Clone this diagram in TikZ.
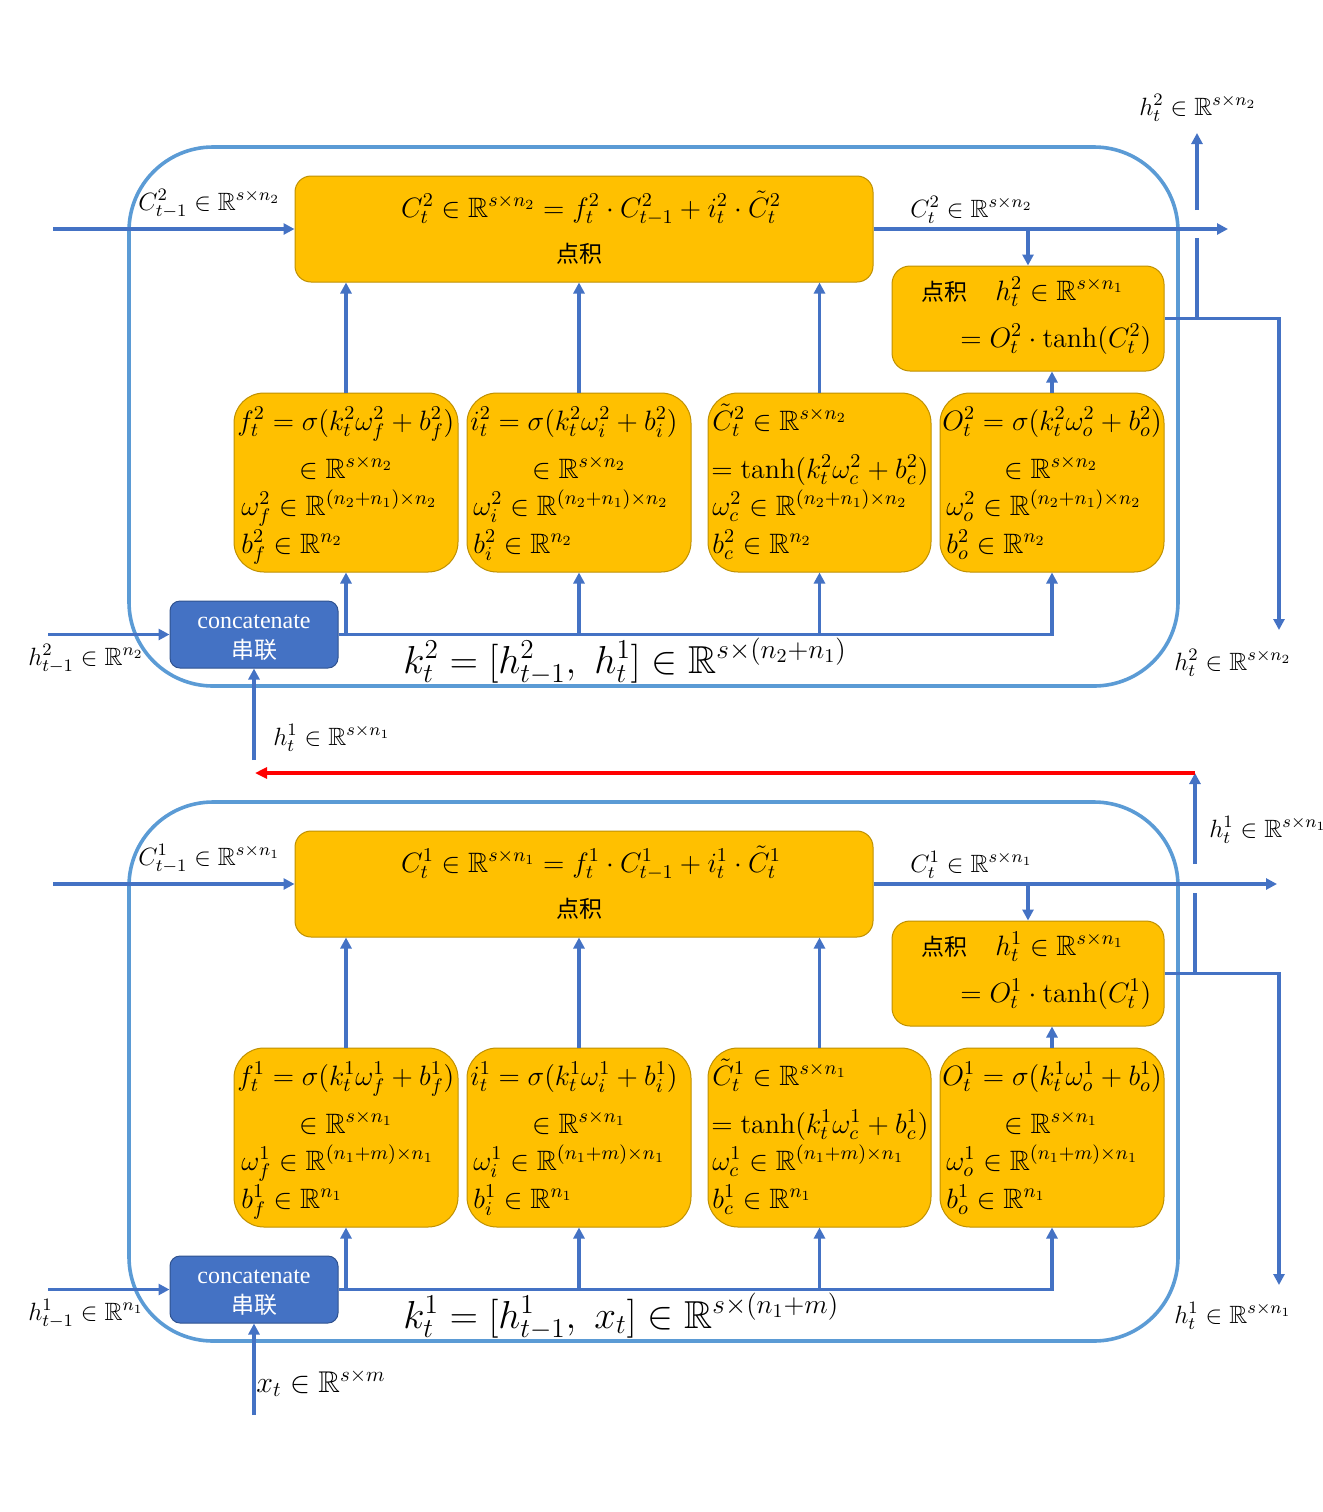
\documentclass[tikz,border=0pt]{standalone}
\usepackage{fix-cm}
\usepackage{amsmath,amssymb}
\usepackage{fontspec}
\newfontfamily\cjk{Noto Sans CJK SC}
\newfontfamily\tnr{Liberation Serif}
\usetikzlibrary{arrows.meta,fit,calc}
\definecolor{yfill}{HTML}{FFC000}
\definecolor{yline}{HTML}{BF9000}
\definecolor{ablue}{HTML}{4472C4}
\definecolor{oblue}{HTML}{5B9BD5}
\definecolor{cline}{HTML}{2F528F}
\tikzset{
  ybox/.style={draw=yline, line width=0.5pt, fill=yfill, inner sep=0pt},
  gatebox/.style={ybox, rounded corners=15pt},
  cbigbox/.style={ybox, rounded corners=8pt},
  catbox/.style={draw=cline, line width=0.5pt, fill=ablue, rounded corners=5pt, inner sep=0pt},
  frame/.style={draw=oblue, line width=1.8pt, rounded corners=42pt},
  conn/.style={draw=ablue, line width=1.7pt},
  arr/.style={conn, -{Triangle[width=5.5pt,length=5.5pt]}},
  redarr/.style={draw=red, line width=1.7pt, -{Triangle[width=5.5pt,length=6pt]}},
  lbl/.style={anchor=base west, inner sep=0pt, font=\fontsize{12.5}{15}\selectfont},
  glbl/.style={anchor=base west, inner sep=0pt, font=\fontsize{14}{16}\selectfont},
  gctr/.style={anchor=base, inner sep=0pt, font=\fontsize{14}{16}\selectfont},
  klbl/.style={anchor=base west, inner sep=0pt, font=\fontsize{19.5}{22}\selectfont},
  zh/.style={inner sep=0pt, font=\cjk\fontsize{11.5}{13}\selectfont},
}
% #1 suffix, #2 dy, #3 layer, #4 n, #5 W, #6 hdim, #7 k formula, #8 C-out tip x, #9 lower input start y
\newcommand\lstmlayer[9]{%
  \draw[frame] (129,147+#2) rectangle (1178,686+#2);
  % big C box
  \node[cbigbox, fit={(295,176+#2) (873,282+#2)}] (C#1) {};
  \node[gctr] (Ct#1) at (591,217+#2) {$C_t^{#3}\in\mathbb{R}^{s\times #4}=f_t^{#3}\cdot C_{t-1}^{#3}+i_t^{#3}\cdot\tilde{C}_t^{#3}$};
  \node[zh, anchor=base] (Cz#1) at (579,262+#2) {点积};
  % h box
  \node[ybox, rounded corners=9pt, fit={(892,266+#2) (1164,371+#2)}] (H#1) {};
  \node[zh, anchor=base west] (Hz#1) at (921,300+#2) {点积};
  \node[glbl] (Ha#1) at (995,300+#2) {$h_t^{#3}\in\mathbb{R}^{s\times #6}$};
  \node[glbl] (Hb#1) at (960,347+#2) {$=O_t^{#3}\cdot\tanh(C_t^{#3})$};
  % gates
  \node[gatebox, fit={(234,393+#2) (458,572+#2)}] (F#1) {};
  \node[glbl] (Fa#1) at (237,430+#2) {$f_t^{#3}=\sigma(k_t^{#3}\omega_f^{#3}+b_f^{#3})$};
  \node[gctr] (Fb#1) at (346,478+#2) {$\in\mathbb{R}^{s\times #4}$};
  \node[glbl] (Fc#1) at (241,515+#2) {$\omega_f^{#3}\in\mathbb{R}^{#5\times #4}$};
  \node[glbl] (Fd#1) at (241,553+#2) {$b_f^{#3}\in\mathbb{R}^{#4}$};
  \node[gatebox, fit={(467,393+#2) (691,572+#2)}] (I#1) {};
  \node[glbl] (Ia#1) at (470,430+#2) {$i_t^{#3}=\sigma(k_t^{#3}\omega_i^{#3}+b_i^{#3})$};
  \node[gctr] (Ib#1) at (579,478+#2) {$\in\mathbb{R}^{s\times #4}$};
  \node[glbl] (Ic#1) at (473,515+#2) {$\omega_i^{#3}\in\mathbb{R}^{#5\times #4}$};
  \node[glbl] (Id#1) at (473,553+#2) {$b_i^{#3}\in\mathbb{R}^{#4}$};
  \node[gatebox, fit={(708,393+#2) (931,572+#2)}] (T#1) {};
  \node[glbl] (Ta#1) at (712,430+#2) {$\tilde{C}_t^{#3}\in\mathbb{R}^{s\times #4}$};
  \node[gctr] (Tb#1) at (820,478+#2) {$=\tanh(k_t^{#3}\omega_c^{#3}+b_c^{#3})$};
  \node[glbl] (Tc#1) at (712,515+#2) {$\omega_c^{#3}\in\mathbb{R}^{#5\times #4}$};
  \node[glbl] (Td#1) at (712,553+#2) {$b_c^{#3}\in\mathbb{R}^{#4}$};
  \node[gatebox, fit={(940,393+#2) (1164,572+#2)}] (O#1) {};
  \node[glbl] (Oa#1) at (942,430+#2) {$O_t^{#3}=\sigma(k_t^{#3}\omega_o^{#3}+b_o^{#3})$};
  \node[gctr] (Ob#1) at (1051,478+#2) {$\in\mathbb{R}^{s\times #4}$};
  \node[glbl] (Oc#1) at (946,515+#2) {$\omega_o^{#3}\in\mathbb{R}^{#5\times #4}$};
  \node[glbl] (Od#1) at (946,553+#2) {$b_o^{#3}\in\mathbb{R}^{#4}$};
  % concatenate
  \node[catbox, fit={(170,601+#2) (338,668+#2)}] (K#1) {};
  \node[anchor=base, inner sep=0pt, text=white, font=\tnr\fontsize{12}{14}\selectfont] (Ka#1) at (254,628+#2) {concatenate};
  \node[zh, anchor=base, text=white] (Kb#1) at (254,658+#2) {串联};
  \node[klbl] (kl#1) at (403,673+#2) {#7};
  % connectors
  \coordinate (cin#1) at (53,229+#2);
  \draw[arr] (cin#1) -- (C#1.west);
  \draw[arr] (F#1.north) -- (F#1.north |- C#1.south);
  \draw[arr] (I#1.north) -- (I#1.north |- C#1.south);
  \draw[arr] (T#1.north) -- (T#1.north |- C#1.south);
  \coordinate (cout#1) at (#8,229+#2);
  \draw[arr] (C#1.east) -- (cout#1);
  \draw[arr] (H#1.north |- C#1.east) -- (H#1.north);
  \draw[arr] (O#1.north) -- (O#1.north |- H#1.south);
  \coordinate (hdn#1) at (1279,630+#2);
  \draw[arr] (H#1.east) -| (hdn#1);
  \draw[arr] (K#1.east) -| (O#1.south);
  \draw[arr] (F#1.south |- K#1.east) -- (F#1.south);
  \draw[arr] (I#1.south |- K#1.east) -- (I#1.south);
  \draw[arr] (T#1.south |- K#1.east) -- (T#1.south);
  \coordinate (hin#1) at (48,634.5+#2);
  \draw[arr] (hin#1) -- (K#1.west);
  \coordinate (bin#1) at (254,#9);
  \draw[arr] (bin#1) -- (K#1.south);
}
\begin{document}
\begin{tikzpicture}[x=0.5pt,y=-0.5pt]
\useasboundingbox (0,0) rectangle (1323,1512);
% layer 2 (top)
\lstmlayer{b}{0}{2}{n_2}{(n_2+n_1)}{n_1}{$k_t^2=[h_{t-1}^2,\ h_t^1]\in\mathbb{R}^{s\times(n_2+n_1)}$}{1228}{760}
% layer 1 (bottom)
\lstmlayer{a}{655}{1}{n_1}{(n_1+m)}{n_1}{$k_t^1=[h_{t-1}^1,\ x_t]\in\mathbb{R}^{s\times(n_1+m)}$}{1277}{1415}
% top h_t^2 upward output with gap
\coordinate (gb1) at (1197,238);
\coordinate (gb2) at (1197,210);
\coordinate (htop) at (1197,133);
\draw[conn] (Hb.east -| gb1) -- (gb1);
\draw[arr] (gb2) -- (htop);
% bottom h_t^1 upward to red feedback
\coordinate (ga1) at (1195,893);
\coordinate (ga2) at (1195,864);
\coordinate (rstart) at (1195,773);
\coordinate (rend) at (255,773);
\draw[conn] (Ha.east -| ga1) -- (ga1);
\draw[arr] (ga2) -- (rstart);
\draw[redarr] (rstart) -- (rend);
% labels
\node[lbl] (Lc2) at (138,210) {$C_{t-1}^2\in\mathbb{R}^{s\times n_2}$};
\node[lbl] (Lco2) at (910,217) {$C_t^2\in\mathbb{R}^{s\times n_2}$};
\node[lbl] (Lht2) at (1139,115) {$h_t^2\in\mathbb{R}^{s\times n_2}$};
\node[lbl] (Lhd2) at (1174,670) {$h_t^2\in\mathbb{R}^{s\times n_2}$};
\node[lbl] (Lhp2) at (28,665) {$h_{t-1}^2\in\mathbb{R}^{n_2}$};
\node[lbl] (Lh1) at (273,745) {$h_t^1\in\mathbb{R}^{s\times n_1}$};
\node[lbl] (Lc1) at (138,865) {$C_{t-1}^1\in\mathbb{R}^{s\times n_1}$};
\node[lbl] (Lco1) at (910,872) {$C_t^1\in\mathbb{R}^{s\times n_1}$};
\node[lbl] (Lhu1) at (1209,837) {$h_t^1\in\mathbb{R}^{s\times n_1}$};
\node[lbl] (Lhd1) at (1174,1323) {$h_t^1\in\mathbb{R}^{s\times n_1}$};
\node[lbl] (Lhp1) at (28,1320) {$h_{t-1}^1\in\mathbb{R}^{n_1}$};
\node[lbl, font=\fontsize{15}{17}\selectfont] (Lx) at (256,1392) {$x_t\in\mathbb{R}^{s\times m}$};
\end{tikzpicture}
\end{document}
